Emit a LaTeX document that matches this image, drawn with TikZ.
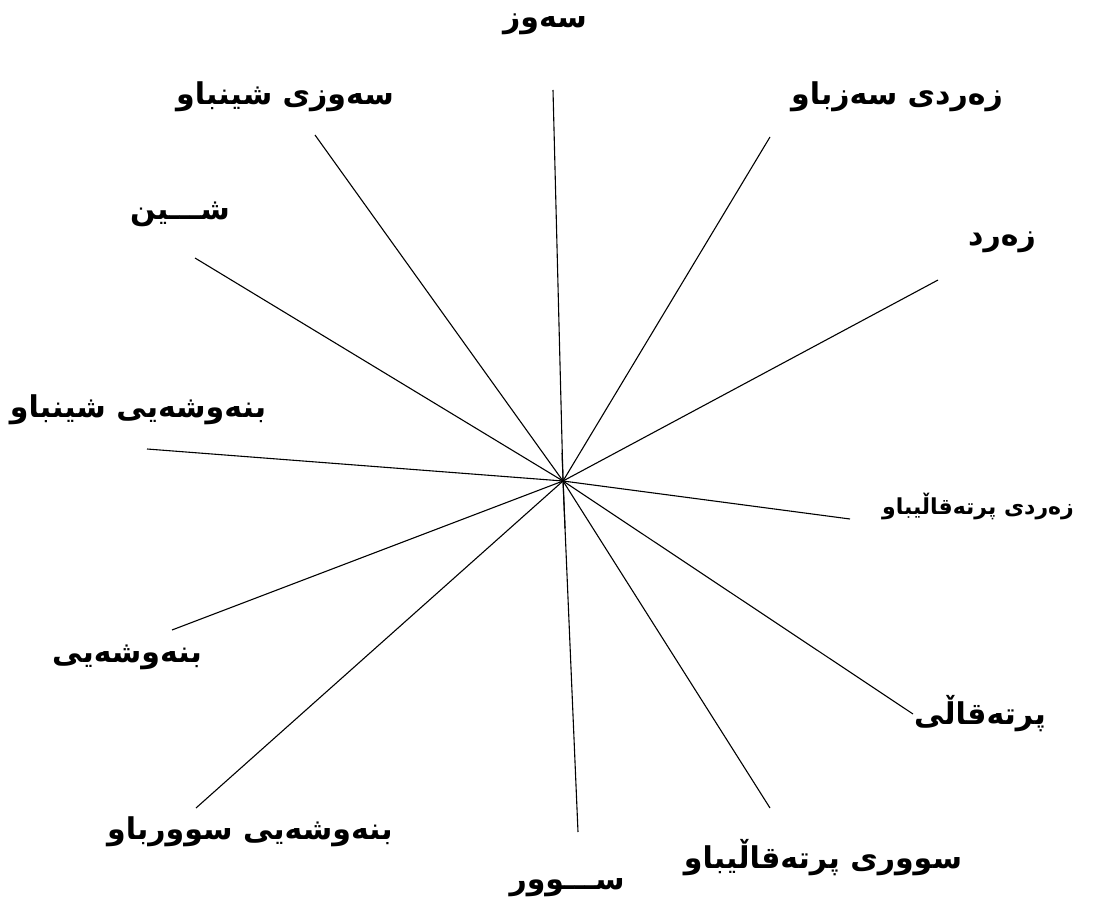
\documentclass[tikz,border=0pt]{standalone}
\usepackage{fontspec}
\TeXXeTstate=1
\newfontfamily\arabicfont[Script=Arabic]{DejaVu Sans}
\begin{document}
\begin{tikzpicture}[x=1pt,y=-1pt,
  lbl/.style={font=\arabicfont\bfseries\fontsize{30}{34}\selectfont, inner sep=0pt},
  slbl/.style={font=\arabicfont\bfseries\fontsize{22}{26}\selectfont, inner sep=0pt},
  ray/.style={draw=black, line width=1.1pt}]
\useasboundingbox (0,0) rectangle (1101,912);
\coordinate (c) at (563,481);
% label nodes
\node[lbl] (l1) at (545,24) {\beginR سەوز\endR};
\node[lbl] (l2) at (897,97) {\beginR زەردی سەزباو\endR};
\node[lbl] (l3) at (285,97) {\beginR سەوزی شینباو\endR};
\node[lbl] (l4) at (180,214) {\beginR شـــین\endR};
\node[lbl] (l5) at (1002,242) {\beginR زەرد\endR};
\node[lbl] (l6) at (138,410) {\beginR بنەوشەیی شینباو\endR};
\node[slbl] (l7) at (978,507) {\beginR زەردی پرتەقاڵیباو\endR};
\node[lbl] (l8) at (127,657) {\beginR بنەوشەیی\endR};
\node[lbl] (l9) at (980,714) {\beginR پرتەقاڵی\endR};
\node[lbl] (l10) at (250,832) {\beginR بنەوشەیی سوورباو\endR};
\node[lbl] (l11) at (823,858) {\beginR سووری پرتەقاڵیباو\endR};
\node[lbl] (l12) at (567,888) {\beginR ســـوور\endR};
% ray ends
\coordinate (e1) at (553,90);
\coordinate (e2) at (770,137);
\coordinate (e3) at (315,135);
\coordinate (e4) at (195,258);
\coordinate (e5) at (938,280);
\coordinate (e6) at (147,449);
\coordinate (e7) at (850,519);
\coordinate (e8) at (172,630);
\coordinate (e9) at (913,714);
\coordinate (e10) at (196,808);
\coordinate (e11) at (770,808);
\coordinate (e12) at (578,832);
\coordinate (s1) at (562,453);
\coordinate (s2) at (565,528);
\foreach \i in {1,...,12} \draw[ray] (c) -- (e\i);
\draw[ray] (s1) -- (s2);
\end{tikzpicture}
\end{document}
